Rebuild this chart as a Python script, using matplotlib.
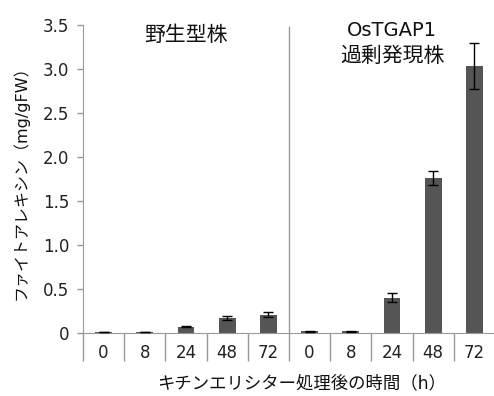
import matplotlib.pyplot as plt
import numpy as np

plt.rcParams['font.family'] = ['DejaVu Sans', 'Noto Sans CJK JP']

hours = ['0', '8', '24', '48', '72']
wild_type = [0.01, 0.01, 0.07, 0.17, 0.21]
wild_type_err = [0.003, 0.003, 0.006, 0.02, 0.03]
ostgap1 = [0.02, 0.02, 0.40, 1.76, 3.03]
ostgap1_err = [0.005, 0.005, 0.05, 0.08, 0.26]

values = wild_type + ostgap1
errors = wild_type_err + ostgap1_err
labels = hours + hours
x = np.arange(len(values))

fig = plt.figure(figsize=(4.94, 3.96), dpi=100)
ax = fig.add_axes([0.168, 0.159, 0.834, 0.778])

ax.bar(x, values, width=0.41, color='#555555', zorder=2)
ax.errorbar(x, values, yerr=errors, fmt='none', ecolor='black',
            elinewidth=1, capsize=3.5, capthick=1, zorder=3)

ax.set_xlim(-0.5, len(values) - 0.5)
ax.set_ylim(0, 3.5)
ax.set_yticks(np.arange(0, 3.51, 0.5))
ax.set_yticklabels(['0'] + [f'{v:.1f}' for v in np.arange(0.5, 3.51, 0.5)])

# category labels sit between long tick dividers below the axis
ax.set_xticks(x)
ax.set_xticklabels(labels)
ax.set_xticks(np.arange(-0.5, len(values), 1), minor=True)
ax.tick_params(axis='x', which='major', length=0, pad=8, labelsize=12, colors='#222222')
ax.tick_params(axis='x', which='minor', length=20, width=1, color='#999999')
ax.tick_params(axis='y', length=4, width=1, color='#999999', labelsize=12,
               labelcolor='#222222', pad=6)

for side in ['top', 'right']:
    ax.spines[side].set_visible(False)
ax.spines['left'].set_color('#999999')
ax.spines['bottom'].set_color('#999999')

# divider between the two lines
ax.axvline(len(hours) - 0.5, ymin=0, ymax=0.992, color='#999999', lw=1, zorder=1)

ax.text(2.0, 3.39, '野生型株', ha='center', va='center', fontsize=15, color='#111111')
ax.text(7.0, 3.44, 'OsTGAP1', ha='center', va='center', fontsize=14, color='#111111')
ax.text(7.0, 3.15, '過剰発現株', ha='center', va='center', fontsize=15, color='#111111')

ax.set_ylabel('ファイトアレキシン（mg/gFW）', fontsize=11.5, labelpad=10, color='#111111')
ax.set_xlabel('キチンエリシター処理後の時間（h）', fontsize=12.5, color='#111111')
ax.xaxis.set_label_coords(0.53, -0.135)

fig.savefig('out.png', dpi=100)
